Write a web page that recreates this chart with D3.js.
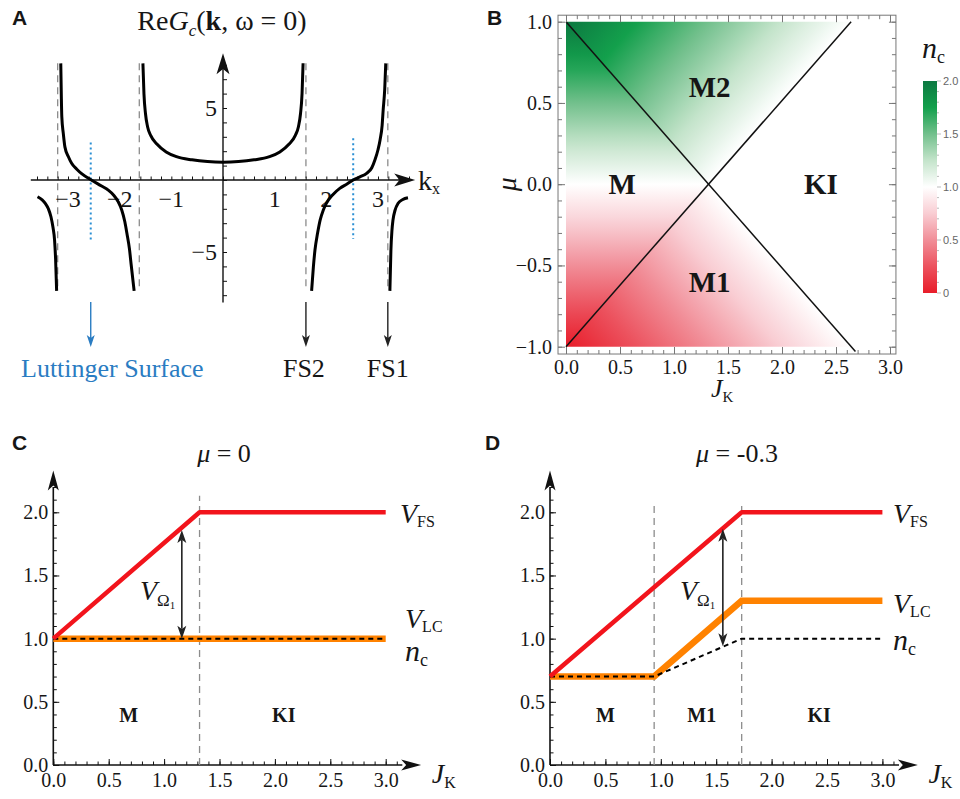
<!DOCTYPE html>
<html>
<head>
<meta charset="utf-8">
<script src="https://cdn.jsdelivr.net/npm/d3@7"></script>
<style>
  body { margin: 0; background: #fff; }
  text { font-family: "Liberation Serif", "Times New Roman", serif; fill: #161616; }
  .letter { font-family: "Liberation Sans", Arial, sans-serif; font-weight: bold; font-size: 21px; }
</style>
</head>
<body>
<svg id="fig" width="960" height="799"></svg>
<script>
// ---- panel A : Re G_c(k, w=0), one array of [k, value] per branch
const branchL1 = [[-3.59,-1.16],[-3.5,-1.38],[-3.44,-1.62],[-3.38,-2.0],[-3.33,-2.55],[-3.29,-3.3],[-3.26,-4.17],[-3.24,-5.5],[-3.22,-7.7]];
const branchL2 = [[-3.14,8.1],[-3.13,6.0],[-3.12,4.4],[-3.09,3.2],[-3.06,2.3],[-2.99,1.6],[-2.93,1.16],[-2.83,0.75],[-2.73,0.42],[-2.55,0],[-2.35,-0.42],[-2.22,-0.7],[-2.12,-1.04],[-2.03,-1.5],[-1.96,-2.08],[-1.9,-2.9],[-1.86,-3.7],[-1.81,-4.8],[-1.78,-5.8],[-1.72,-7.7]];
const branchMid = [[-1.55,8.1],[-1.53,6.0],[-1.5,4.6],[-1.46,3.7],[-1.4,3.1],[-1.28,2.5],[-1.1,1.95],[-0.9,1.62],[-0.6,1.4],[-0.3,1.28],[0,1.24],[0.3,1.28],[0.6,1.4],[0.9,1.62],[1.1,1.95],[1.28,2.5],[1.4,3.1],[1.46,3.7],[1.5,4.6],[1.53,6.0],[1.55,8.1]];
const branchR1 = [[1.715,-7.7],[1.75,-6.0],[1.78,-4.86],[1.83,-3.7],[1.88,-2.78],[1.94,-2.1],[2.0,-1.62],[2.13,-1.0],[2.26,-0.58],[2.4,-0.28],[2.52,0],[2.65,0.22],[2.78,0.46],[2.88,0.85],[2.94,1.39],[3.0,2.1],[3.04,2.78],[3.08,3.8],[3.1,4.86],[3.13,6.3],[3.15,8.1]];
const branchR2 = [[3.23,-7.7],[3.25,-4.86],[3.27,-3.5],[3.29,-2.78],[3.33,-2.1],[3.39,-1.62],[3.48,-1.35],[3.58,-1.23]];
const kPoles = [-3.2, -1.62, 1.605, 3.19];
const kZeros = [-2.56, 2.52];
const zeroTop = [2.6, 2.9];
const zeroBottom = [-4.3, -4.1];
const kTickValues = [-3, -2, -1, 1, 2, 3];
const kTickLabels = ["−3", "−2", "−1", "1", "2", "3"];
const gTickValues = [5, -5];
const gTickLabels = ["5", "−5"];
const markerK = [-2.56, 1.605, 3.19];
const markerNames = ["Luttinger Surface", "FS2", "FS1"];

// ---- panel B : phase diagram, n_c at the corners of each region
const regionNames = ["M", "M2", "M1"];
const regionJ = [[0, 1.32, 0], [0, 2.64, 1.32], [0, 1.32, 2.64]];
const regionMu = [[1, 0, -1], [1, 1, 0], [-1, 0, -1]];
const regionNc = [[2, 1, 0], [2, 1, 1], [0, 1, 1]];
const boundaryJ = [[0, 2.68], [0, 2.64]];
const boundaryMu = [[1, -1.03], [-1, 1]];
const phaseLabels = ["M2", "M", "KI", "M1"];
const phaseLabelJ = [1.33, 0.52, 2.36, 1.33];
const phaseLabelMu = [0.6, 0, 0, -0.6];
const ncStops = [0, 0.25, 0.5, 0.75, 1, 1.25, 1.5, 1.75, 2];
const ncColors = ["#e81d2a", "#ec525e", "#f18e98", "#f9cdd3", "#ffffff", "#c4e4cb", "#72c08c", "#13a04c", "#0c7841"];
const cbTicks = [2, 1.5, 1, 0.5, 0];
const cbLabels = ["2.0", "1.5", "1.0", "0.5", "0"];

// ---- panels C and D : V_FS, V_LC, n_c versus J_K
const jC = [0, 1.32, 3.0];
const vfsC = [1, 2, 2];
const jLcC = [0, 3.0];
const vlcC = [1, 1];
const ncC = [1, 1];
const boundsC = [1.32];
const arrowC = [1.16, 1.86, 1.0];
const regionsC = ["M", "KI"];
const regionsCJ = [0.68, 2.08];

const jD = [0, 1.73, 3.0];
const vfsD = [0.7, 2, 2];
const jLcD = [0, 0.94, 1.73, 3.0];
const vlcD = [0.7, 0.7, 1.3, 1.3];
const ncD = [0.7, 0.7, 1.0, 1.0];
const boundsD = [0.94, 1.73];
const arrowD = [1.56, 1.87, 0.94];
const regionsD = ["M", "M1", "KI"];
const regionsDJ = [0.5, 1.37, 2.43];

const svg = d3.select("#fig");
const defs = svg.append("defs");

// small helpers
function arrowHead(g, x, y, dir, len, wid, color) {
  let p;
  if (dir === "up") p = [[x, y], [x - wid / 2, y + len], [x, y + len * 0.75], [x + wid / 2, y + len]];
  else if (dir === "down") p = [[x, y], [x - wid / 2, y - len], [x, y - len * 0.75], [x + wid / 2, y - len]];
  else p = [[x, y], [x - len, y - wid / 2], [x - len * 0.75, y], [x - len, y + wid / 2]];
  g.append("path").attr("d", "M" + p.join("L") + "Z").attr("fill", color || "#111");
}

function rich(g, x, y, parts, anchor) {
  const t = g.append("text").attr("x", x).attr("y", y).attr("text-anchor", anchor || "start");
  parts.forEach(p => {
    const s = t.append("tspan").text(p.t).style("font-size", p.s + "px");
    if (p.i) s.style("font-style", "italic");
    if (p.b) s.style("font-weight", "bold");
    if (p.dy) s.attr("dy", p.dy);
  });
  return t;
}

// ================= Panel A =================
const xA = d3.scaleLinear().domain([-3, 3]).range([68, 378]);
const yA = d3.scaleLinear().domain([-5, 5]).range([252, 108]);
const gA = svg.append("g");

gA.append("text").attr("class", "letter").attr("x", 12).attr("y", 25).text("A");
rich(gA, 222, 30, [
  {t: "Re", s: 28}, {t: "G", s: 28, i: 1}, {t: "c", s: 17, i: 1, dy: 6},
  {t: "(", s: 28, dy: -6}, {t: "k", s: 28, b: 1}, {t: ", ω = 0)", s: 28}
], "middle");

gA.selectAll(".pole").data(kPoles).join("line")
  .attr("x1", d => xA(d)).attr("x2", d => xA(d))
  .attr("y1", yA(8.1)).attr("y2", yA(-7.7))
  .attr("stroke", "#8c8c8c").attr("stroke-width", 1.3).attr("stroke-dasharray", "7,5");

gA.selectAll(".zero").data(kZeros).join("line")
  .attr("x1", d => xA(d)).attr("x2", d => xA(d))
  .attr("y1", (d, i) => yA(zeroTop[i])).attr("y2", (d, i) => yA(zeroBottom[i]))
  .attr("stroke", "#2b8fd4").attr("stroke-width", 2).attr("stroke-dasharray", "2,3");

// axes of A
const axisXA = gA.append("g").attr("transform", `translate(0,${yA(0)})`);
axisXA.call(d3.axisTop(xA).tickValues(d3.range(-18, 19).map(i => i / 5)).tickSize(3.5).tickFormat(""));
axisXA.call(g => g.select(".domain").remove());
axisXA.selectAll("line").attr("stroke", "#111");
gA.append("line").attr("x1", xA(-3.72)).attr("x2", xA(3.5)).attr("y1", yA(0)).attr("y2", yA(0))
  .attr("stroke", "#111").attr("stroke-width", 1.4);
arrowHead(gA, xA(3.72), yA(0), "right", 21, 13);

const axisYA = gA.append("g").attr("transform", `translate(${xA(0)},0)`);
axisYA.call(d3.axisRight(yA).tickValues(d3.range(-8, 9)).tickSize(4).tickFormat(""));
axisYA.call(g => g.select(".domain").remove());
axisYA.selectAll("line").attr("stroke", "#111");
gA.append("line").attr("x1", xA(0)).attr("x2", xA(0)).attr("y1", yA(-8.5)).attr("y2", yA(8.2))
  .attr("stroke", "#111").attr("stroke-width", 1.4);
arrowHead(gA, xA(0), yA(8.8), "up", 21, 13);

gA.selectAll(".kl").data(kTickValues).join("text")
  .attr("x", d => xA(d)).attr("y", yA(0) + 27).attr("text-anchor", "middle")
  .style("font-size", "24px").text((d, i) => kTickLabels[i]);
gA.selectAll(".gl").data(gTickValues).join("text")
  .attr("x", xA(0) - 6).attr("y", d => yA(d) + 8).attr("text-anchor", "end")
  .style("font-size", "24px").text((d, i) => gTickLabels[i]);
rich(gA, 418, 190, [{t: "k", s: 28}, {t: "x", s: 16, dy: 4}]);

const lineA = d3.line().x(d => xA(d[0])).y(d => yA(d[1])).curve(d3.curveMonotoneX);
gA.selectAll(".branch").data([branchL1, branchL2, branchMid, branchR1, branchR2]).join("path")
  .attr("d", lineA).attr("fill", "none").attr("stroke", "#000").attr("stroke-width", 3);

// arrows to the Luttinger surface and Fermi surfaces
markerK.forEach((k, i) => {
  const col = i === 0 ? "#2a7cc2" : "#222";
  gA.append("line").attr("x1", xA(k)).attr("x2", xA(k)).attr("y1", 302).attr("y2", 340)
    .attr("stroke", col).attr("stroke-width", 1.4);
  arrowHead(gA, xA(k), 347, "down", 12, 8, col);
});
gA.append("text").attr("x", 21).attr("y", 377).style("font-size", "26px").style("fill", "#2a7cc2").text(markerNames[0]);
gA.append("text").attr("x", xA(markerK[1]) - 2).attr("y", 377).attr("text-anchor", "middle").style("font-size", "26px").text(markerNames[1]);
gA.append("text").attr("x", xA(markerK[2])).attr("y", 377).attr("text-anchor", "middle").style("font-size", "26px").text(markerNames[2]);

// ================= Panel B =================
const xB = d3.scaleLinear().domain([0, 3]).range([566, 890]);
const yB = d3.scaleLinear().domain([-1, 1]).range([346.7, 21.7]);
const ncColor = d3.scaleLinear().domain(ncStops).range(ncColors);
const frame = {x0: xB(-0.074), x1: xB(3.055), y0: yB(1.04), y1: yB(-1.045)};
const gB = svg.append("g");
gB.append("text").attr("class", "letter").attr("x", 487).attr("y", 25).text("B");

function triGradient(id, pts, vals) {
  const [p0, p1, p2] = pts;
  const a11 = p1[0] - p0[0], a12 = p1[1] - p0[1], a21 = p2[0] - p0[0], a22 = p2[1] - p0[1];
  const b1 = vals[1] - vals[0], b2 = vals[2] - vals[0];
  const det = a11 * a22 - a12 * a21;
  const gx = (b1 * a22 - a12 * b2) / det, gy = (a11 * b2 - a21 * b1) / det;
  const lo = d3.minIndex(vals), hi = d3.maxIndex(vals);
  const span = vals[hi] - vals[lo], g2 = gx * gx + gy * gy;
  const s = pts[lo];
  const grad = defs.append("linearGradient").attr("id", id).attr("gradientUnits", "userSpaceOnUse")
    .attr("x1", s[0]).attr("y1", s[1])
    .attr("x2", s[0] + gx * span / g2).attr("y2", s[1] + gy * span / g2);
  d3.range(0, 21).forEach(i => grad.append("stop").attr("offset", i / 20)
    .attr("stop-color", ncColor(vals[lo] + span * i / 20)));
}

regionNames.forEach((name, r) => {
  const pts = regionJ[r].map((j, i) => [xB(j), yB(regionMu[r][i])]);
  triGradient("grad" + name, pts, regionNc[r]);
  gB.append("path").attr("d", "M" + pts.join("L") + "Z").attr("fill", `url(#grad${name})`);
});

gB.selectAll(".bd").data(boundaryJ).join("line")
  .attr("x1", d => xB(d[0])).attr("x2", d => xB(d[1]))
  .attr("y1", (d, i) => yB(boundaryMu[i][0])).attr("y2", (d, i) => yB(boundaryMu[i][1]))
  .attr("stroke", "#111").attr("stroke-width", 1.5);

gB.selectAll(".pl").data(phaseLabels).join("text")
  .attr("x", (d, i) => xB(phaseLabelJ[i])).attr("y", (d, i) => yB(phaseLabelMu[i]) + 10)
  .attr("text-anchor", "middle").style("font-size", "29px").style("font-weight", "bold").text(d => d);

// frame with inward ticks
gB.append("rect").attr("x", frame.x0).attr("y", frame.y0)
  .attr("width", frame.x1 - frame.x0).attr("height", frame.y1 - frame.y0)
  .attr("fill", "none").attr("stroke", "#777").attr("stroke-width", 1);
const jMinor = d3.range(0, 31).map(i => i / 10);
const jMajor = d3.range(0, 7).map(i => i / 2);
const muMinor = d3.range(-10, 11).map(i => i / 10);
const muMajor = [-1, -0.5, 0, 0.5, 1];
function frameAxis(axisFn, scale, pos, vals, size, labels) {
  const g = gB.append("g").attr("transform", pos);
  const ax = axisFn(scale).tickValues(vals).tickSize(-size).tickPadding(6);
  ax.tickFormat(labels ? d3.format(".1f") : "");
  g.call(ax);
  g.select(".domain").remove();
  g.selectAll("line").attr("stroke", "#777");
  g.selectAll("text").style("font-size", "20px").style("font-family", '"Liberation Serif", serif').attr("fill", "#161616");
  return g;
}
frameAxis(d3.axisBottom, xB, `translate(0,${frame.y1})`, jMinor, 4, false);
frameAxis(d3.axisBottom, xB, `translate(0,${frame.y1})`, jMajor, 7, true);
frameAxis(d3.axisTop, xB, `translate(0,${frame.y0})`, jMinor, 4, false);
frameAxis(d3.axisTop, xB, `translate(0,${frame.y0})`, jMajor, 7, false);
frameAxis(d3.axisLeft, yB, `translate(${frame.x0},0)`, muMinor, 4, false);
frameAxis(d3.axisLeft, yB, `translate(${frame.x0},0)`, muMajor, 7, true);
frameAxis(d3.axisRight, yB, `translate(${frame.x1},0)`, muMinor, 4, false);
frameAxis(d3.axisRight, yB, `translate(${frame.x1},0)`, muMajor, 7, false);

rich(gB, 711, 397, [{t: "J", s: 26, i: 1}, {t: "K", s: 15, dy: 5}]);
gB.append("text").attr("transform", `translate(516,${yB(0)}) rotate(-90)`).attr("text-anchor", "middle")
  .style("font-size", "28px").style("font-style", "italic").text("μ");

// colorbar
const yCb = d3.scaleLinear().domain([0, 2]).range([293, 81]);
const cbGrad = defs.append("linearGradient").attr("id", "cbGrad").attr("x1", 0).attr("y1", 1).attr("x2", 0).attr("y2", 0);
ncStops.forEach((v, i) => cbGrad.append("stop").attr("offset", v / 2).attr("stop-color", ncColors[i]));
gB.append("rect").attr("x", 923).attr("y", yCb(2)).attr("width", 14).attr("height", yCb(0) - yCb(2))
  .attr("fill", "url(#cbGrad)");
gB.selectAll(".cbt").data(d3.range(0, 21).map(i => i / 10)).join("line")
  .attr("x1", 937).attr("x2", (d, i) => i % 5 === 0 ? 941 : 939)
  .attr("y1", d => yCb(d)).attr("y2", d => yCb(d)).attr("stroke", "#aaa").attr("stroke-width", 0.8);
gB.selectAll(".cbl").data(cbTicks).join("text")
  .attr("x", 943).attr("y", d => yCb(d) + 4)
  .style("font-family", '"Liberation Sans", Arial, sans-serif').style("font-size", "11px").style("fill", "#666")
  .text((d, i) => cbLabels[i]);
rich(gB, 922, 58, [{t: "n", s: 30, i: 1}, {t: "c", s: 18, dy: 5}]);

// ================= Panels C and D =================
function linePanel(opt) {
  const x = d3.scaleLinear().domain([0, 3]).range([opt.x0, opt.x0 + 332.4]);
  const y = d3.scaleLinear().domain([0, 2]).range([765, 512.3]);
  const g = svg.append("g");
  g.append("text").attr("class", "letter").attr("x", opt.letterX).attr("y", 450).text(opt.letter);

  // ticks
  const addTicks = (fn, pos, vals, size, pad, labels) => {
    const a = g.append("g").attr("transform", pos);
    a.call(fn.tickValues(vals).tickSize(-size).tickPadding(pad).tickFormat(labels ? d3.format(".1f") : ""));
    a.select(".domain").remove();
    a.selectAll("line").attr("stroke", "#111");
    a.selectAll("text").style("font-size", "20px").style("font-family", '"Liberation Serif", serif').attr("fill", "#161616");
  };
  addTicks(d3.axisBottom(x), `translate(0,${y(0)})`, d3.range(0, 32).map(i => i / 10), 3.5, 0, false);
  addTicks(d3.axisBottom(x), `translate(0,${y(0)})`, d3.range(0, 7).map(i => i / 2), 6, 8, true);
  addTicks(d3.axisLeft(y), `translate(${x(0)},0)`, d3.range(0, 23).map(i => i / 10), 3.5, 0, false);
  addTicks(d3.axisLeft(y), `translate(${x(0)},0)`, d3.range(0, 5).map(i => i / 2), 6, 5, true);

  g.append("line").attr("x1", x(0)).attr("x2", x(3.15)).attr("y1", y(0)).attr("y2", y(0)).attr("stroke", "#111").attr("stroke-width", 1.6);
  arrowHead(g, x(3.32), y(0), "right", 20, 11);
  g.append("line").attr("x1", x(0)).attr("x2", x(0)).attr("y1", y(0)).attr("y2", y(2.2)).attr("stroke", "#111").attr("stroke-width", 1.6);
  arrowHead(g, x(0), y(2.33), "up", 20, 11);

  // phase boundaries
  g.selectAll(".vb").data(opt.bounds).join("line")
    .attr("x1", d => x(d)).attr("x2", d => x(d)).attr("y1", y(0)).attr("y2", y(opt.boundTop))
    .attr("stroke", "#8c8c8c").attr("stroke-width", 1.3).attr("stroke-dasharray", "7,5");

  const ln = d3.line().x(d => x(d[0])).y(d => y(d[1]));
  g.append("path").attr("d", ln(opt.jLc.map((j, i) => [j, opt.vlc[i]])))
    .attr("fill", "none").attr("stroke", "#ff8200").attr("stroke-width", 6.5);
  g.append("path").attr("d", ln(opt.jLc.map((j, i) => [j, opt.nc[i]])))
    .attr("fill", "none").attr("stroke", "#000").attr("stroke-width", 2).attr("stroke-dasharray", "5,4");
  g.append("path").attr("d", ln(opt.j.map((j, i) => [j, opt.vfs[i]])))
    .attr("fill", "none").attr("stroke", "#f2141c").attr("stroke-width", 4.5).attr("stroke-linejoin", "round");

  // V_Omega1 double arrow
  const [aj, atop, abot] = opt.arrow;
  g.append("line").attr("x1", x(aj)).attr("x2", x(aj)).attr("y1", y(atop) + 10).attr("y2", y(abot) - 10)
    .attr("stroke", "#222").attr("stroke-width", 1.6);
  arrowHead(g, x(aj), y(atop), "up", 13, 9, "#222");
  arrowHead(g, x(aj), y(abot), "down", 13, 9, "#222");

  rich(g, opt.vOmX, 600, [{t: "V", s: 28, i: 1}, {t: "Ω", s: 17, dy: 6}, {t: "1", s: 11, dy: 3}]);
  rich(g, opt.labelX, 523, [{t: "V", s: 28, i: 1}, {t: "FS", s: 16, dy: 4}]);
  rich(g, opt.labelX + opt.lcShift, opt.lcY, [{t: "V", s: 28, i: 1}, {t: "LC", s: 16, dy: 4}]);
  rich(g, opt.labelX + opt.lcShift, opt.ncY, [{t: "n", s: 30, i: 1}, {t: "c", s: 18, dy: 5}]);
  rich(g, opt.titleX, 462, [{t: "μ", s: 26, i: 1}, {t: " = " + opt.mu, s: 26}], "middle");

  g.selectAll(".rl").data(opt.regions).join("text")
    .attr("x", (d, i) => x(opt.regionsJ[i])).attr("y", 722).attr("text-anchor", "middle")
    .style("font-size", "20px").style("font-weight", "bold").text(d => d);
  rich(g, x(3.0) + 46, 783, [{t: "J", s: 28, i: 1}, {t: "K", s: 16, dy: 5}]);
}

linePanel({x0: 53.3, letter: "C", letterX: 12, j: jC, vfs: vfsC, jLc: jLcC, vlc: vlcC, nc: ncC,
  bounds: boundsC, boundTop: 2.13, arrow: arrowC, regions: regionsC, regionsJ: regionsCJ,
  vOmX: 140, labelX: 400, lcShift: 5, lcY: 628, ncY: 661, titleX: 224, mu: "0"});
linePanel({x0: 550, letter: "D", letterX: 485, j: jD, vfs: vfsD, jLc: jLcD, vlc: vlcD, nc: ncD,
  bounds: boundsD, boundTop: 2.08, arrow: arrowD, regions: regionsD, regionsJ: regionsDJ,
  vOmX: 680, labelX: 893, lcShift: 0, lcY: 613, ncY: 650, titleX: 737, mu: "-0.3"});
</script>
</body>
</html>
